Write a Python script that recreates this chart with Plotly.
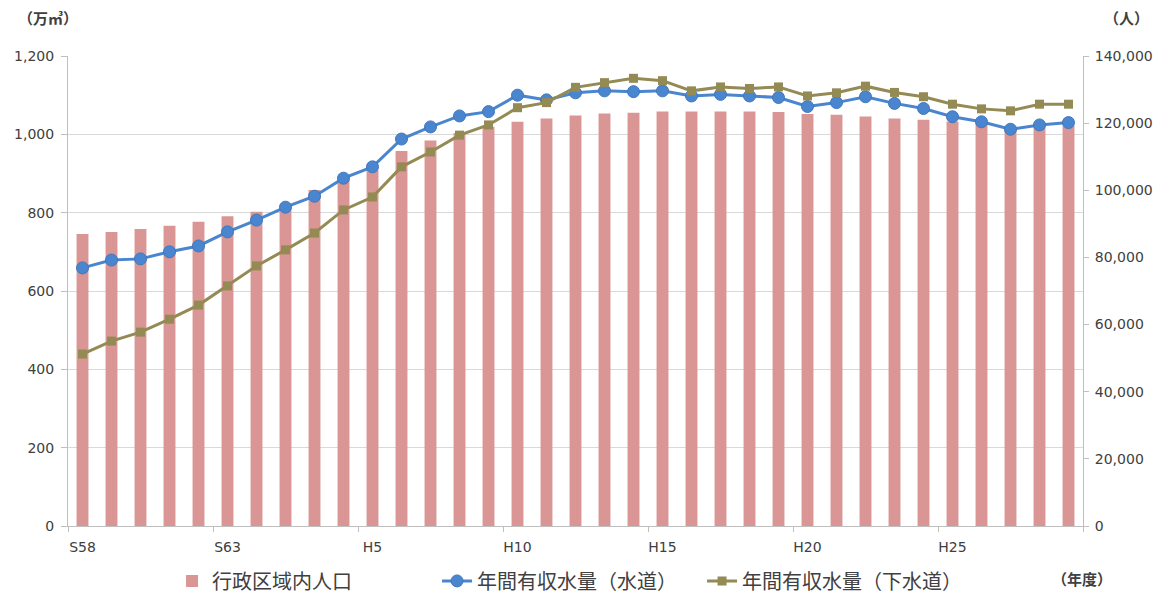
import plotly.graph_objects as go

# fiscal years S58 .. H29
years = ["S58", "S59", "S60", "S61", "S62", "S63"] + [f"H{i}" for i in range(1, 30)]

# population in administrative area (people) - right axis
population = [
    87000, 87600, 88500, 89400, 90600, 92300, 93600, 94300, 100100, 103100,
    106000, 111700, 114800, 117100, 118900, 120400, 121400, 122300, 122900, 123100,
    123500, 123500, 123500, 123500, 123300, 122700, 122500, 122000, 121400, 121000,
    120500, 119900, 118500, 119200, 119200,
]

# annual billed water volume, water supply (10k m3) - left axis
water_supply = [
    659, 679, 682, 700, 715, 751, 781, 814, 842, 888,
    917, 988, 1019, 1047, 1058, 1100, 1088, 1106, 1111, 1109,
    1111, 1098, 1102, 1098, 1094, 1071, 1081, 1096, 1079, 1066,
    1045, 1032, 1013, 1024, 1030,
]

# annual billed water volume, sewerage (10k m3) - left axis
sewerage = [
    439, 472, 495, 528, 564, 613, 664, 705, 748, 807,
    840, 917, 955, 998, 1024, 1068, 1081, 1120, 1132, 1143,
    1137, 1111, 1121, 1117, 1121, 1098, 1106, 1123, 1107, 1096,
    1077, 1065, 1060, 1077, 1077,
]

font_num = "DejaVu Sans, Noto Sans CJK JP, sans-serif"
font_cjk = "Noto Sans CJK JP, sans-serif"
axis_col = "#BFBFBF"
text_col = "#404040"

fig = go.Figure()

# bars on the primary (right-hand) axis so the lines overlay them
fig.add_trace(go.Bar(
    x=years, y=population,
    name="行政区域内人口",
    marker=dict(color="#DA9694", line=dict(width=0)),
    yaxis="y",
))

fig.add_trace(go.Scatter(
    x=years, y=water_supply,
    name="年間有収水量（水道）",
    mode="lines+markers",
    line=dict(color="#4A86CF", width=3),
    marker=dict(symbol="circle", size=12, color="#4A86CF",
                line=dict(color="#3F77BC", width=1)),
    yaxis="y2",
))

fig.add_trace(go.Scatter(
    x=years, y=sewerage,
    name="年間有収水量（下水道）",
    mode="lines+markers",
    line=dict(color="#948A54", width=3),
    marker=dict(symbol="square", size=9, color="#948A54"),
    yaxis="y2",
))

# page body keeps its 8px default margin, so the figure is 8px smaller
fig.update_layout(
    width=1155, height=590,
    margin=dict(l=60, r=80, t=48, b=72, autoexpand=False),
    paper_bgcolor="white",
    plot_bgcolor="white",
    bargap=0.59,
    showlegend=True,
    font=dict(family=font_num, size=14, color=text_col),
    xaxis=dict(
        type="category",
        range=[-0.5, 34.5],
        tickmode="linear", tick0=0, dtick=5,
        tickson="boundaries",
        tickangle=0,
        automargin=False,
        ticks="outside", ticklen=5, tickcolor=axis_col,
        ticklabelstandoff=8,
        showline=True, linecolor=axis_col, linewidth=1,
        showgrid=False,
        tickfont=dict(family=font_num, size=14, color=text_col),
    ),
    yaxis=dict(
        side="right",
        range=[0, 140000],
        dtick=20000,
        tickformat=",",
        automargin=False,
        showgrid=False, zeroline=False,
        ticks="outside", ticklen=5, tickcolor=axis_col,
        ticklabelstandoff=3,
        showline=True, linecolor=axis_col, linewidth=1,
        tickfont=dict(family=font_num, size=14, color=text_col),
    ),
    yaxis2=dict(
        overlaying="y",
        side="left",
        range=[0, 1200],
        dtick=200,
        tickformat=",",
        automargin=False,
        showgrid=True, gridcolor="#D9D9D9", gridwidth=1,
        zeroline=False,
        ticks="outside", ticklen=6, tickcolor=axis_col,
        ticklabelstandoff=4,
        showline=True, linecolor=axis_col, linewidth=1,
        tickfont=dict(family=font_num, size=14, color=text_col),
    ),
    legend=dict(
        orientation="h",
        x=0.1025, xanchor="left",
        yref="container",
        y=0.062, yanchor="top",
        font=dict(family=font_cjk, size=20, color=text_col),
        itemwidth=30,
        entrywidth=220,
        tracegroupgap=0,
        bgcolor="rgba(0,0,0,0)",
    ),
    annotations=[
        dict(text="<b>（万㎥）</b>", xref="paper", yref="paper",
             x=-0.02, y=1.081, xanchor="center", yanchor="middle",
             showarrow=False, font=dict(family=font_cjk, size=15, color=text_col)),
        dict(text="<b>（人）</b>", xref="paper", yref="paper",
             x=1.043, y=1.081, xanchor="center", yanchor="middle",
             showarrow=False, font=dict(family=font_cjk, size=15, color=text_col)),
        dict(text="<b>（年度）</b>", xref="paper", yref="paper",
             x=0.999, y=-0.111, xanchor="center", yanchor="middle",
             showarrow=False, font=dict(family=font_cjk, size=15, color=text_col)),
    ],
)

fig.write_html("out.html")
